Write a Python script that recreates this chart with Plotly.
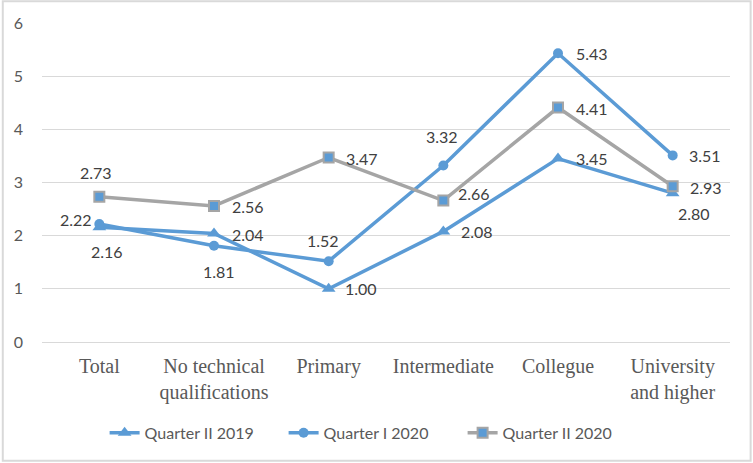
import plotly.graph_objects as go

categories = ["Total", "No technical<br>qualifications", "Primary", "Intermediate",
              "Collegue", "University<br>and higher"]

q2_2019 = [2.16, 2.04, 1.00, 2.08, 3.45, 2.80]
q1_2020 = [2.22, 1.81, 1.52, 3.32, 5.43, 3.51]
q2_2020 = [2.73, 2.56, 3.47, 2.66, 4.41, 2.93]

y_ticks = [0, 1, 2, 3, 4, 5, 6]

BLUE = "#5B9BD5"
GRAY = "#A5A5A5"
SANS = "Lato, Liberation Sans, sans-serif"

# where each data label sits next to its point: (xanchor, xshift, yshift) in px
place_q2_2019 = [("center", 8, -24), ("left", 16, -1), ("left", 14, 0),
                 ("left", 16, 0), ("left", 16, 0), ("center", 21, -20)]
place_q1_2020 = [("right", -5, 4), ("center", 5, -26), ("center", -6, 21),
                 ("center", -1, 29), ("left", 16, 0), ("left", 14, 0)]
place_q2_2020 = [("center", -3, 24), ("left", 16, -1), ("left", 15, -1),
                 ("left", 13, 7), ("left", 16, -1), ("left", 15, -1)]

fig = go.Figure()

fig.add_trace(go.Scatter(
    x=categories, y=q2_2019, mode="lines+markers", name="Quarter II 2019",
    line=dict(color=BLUE, width=3.5),
    marker=dict(symbol="triangle-up", size=12, color=BLUE),
))
fig.add_trace(go.Scatter(
    x=categories, y=q1_2020, mode="lines+markers", name="Quarter I 2020",
    line=dict(color=BLUE, width=3.5),
    marker=dict(symbol="circle", size=10, color=BLUE),
))
fig.add_trace(go.Scatter(
    x=categories, y=q2_2020, mode="lines+markers", name="Quarter II 2020",
    line=dict(color=GRAY, width=3.5),
    marker=dict(symbol="square", size=10, color=BLUE, line=dict(color=GRAY, width=2)),
))

# data labels
for values, places in [(q2_2019, place_q2_2019), (q1_2020, place_q1_2020),
                       (q2_2020, place_q2_2020)]:
    for cat, v, (anchor, dx, dy) in zip(categories, values, places):
        fig.add_annotation(
            x=cat, y=v, text=f"{v:.2f}", showarrow=False,
            xanchor=anchor, yanchor="middle", xshift=dx, yshift=dy,
            font=dict(family=SANS, size=16, color="#404040"),
        )

# light frame round the whole chart
fig.add_shape(type="rect", xref="paper", yref="paper",
              x0=-0.057, x1=1.030, y0=-0.372, y1=1.068,
              line=dict(color="#D9D9D9", width=2))

fig.update_xaxes(
    range=[-0.5, 5.5], automargin=False,
    showgrid=False, showline=False, ticks="", ticklabelstandoff=10,
    tickfont=dict(family="Liberation Serif, serif", size=20, color="#595959"),
)
fig.update_yaxes(
    range=[0, 6], tickvals=y_ticks, automargin=False,
    showgrid=True, gridcolor="#D9D9D9", gridwidth=1,
    zeroline=True, zerolinecolor="#D9D9D9", zerolinewidth=1,
    ticks="", ticklabelstandoff=18,
    tickfont=dict(family=SANS, size=16, color="#595959"),
)

fig.update_layout(
    width=753, height=463,
    margin=dict(l=42, r=23, t=23, b=121),
    plot_bgcolor="white", paper_bgcolor="white",
    showlegend=True,
    legend=dict(orientation="h", x=0.091, xanchor="left", y=-0.285, yanchor="middle",
                font=dict(family=SANS, size=16, color="#595959"),
                entrywidth=134, entrywidthmode="pixels"),
)

# drop the page's default body margin so the chart sits at the window corner
fig.write_html("out.html", config={"displayModeBar": False},
               post_script="document.body.style.margin='0';")
